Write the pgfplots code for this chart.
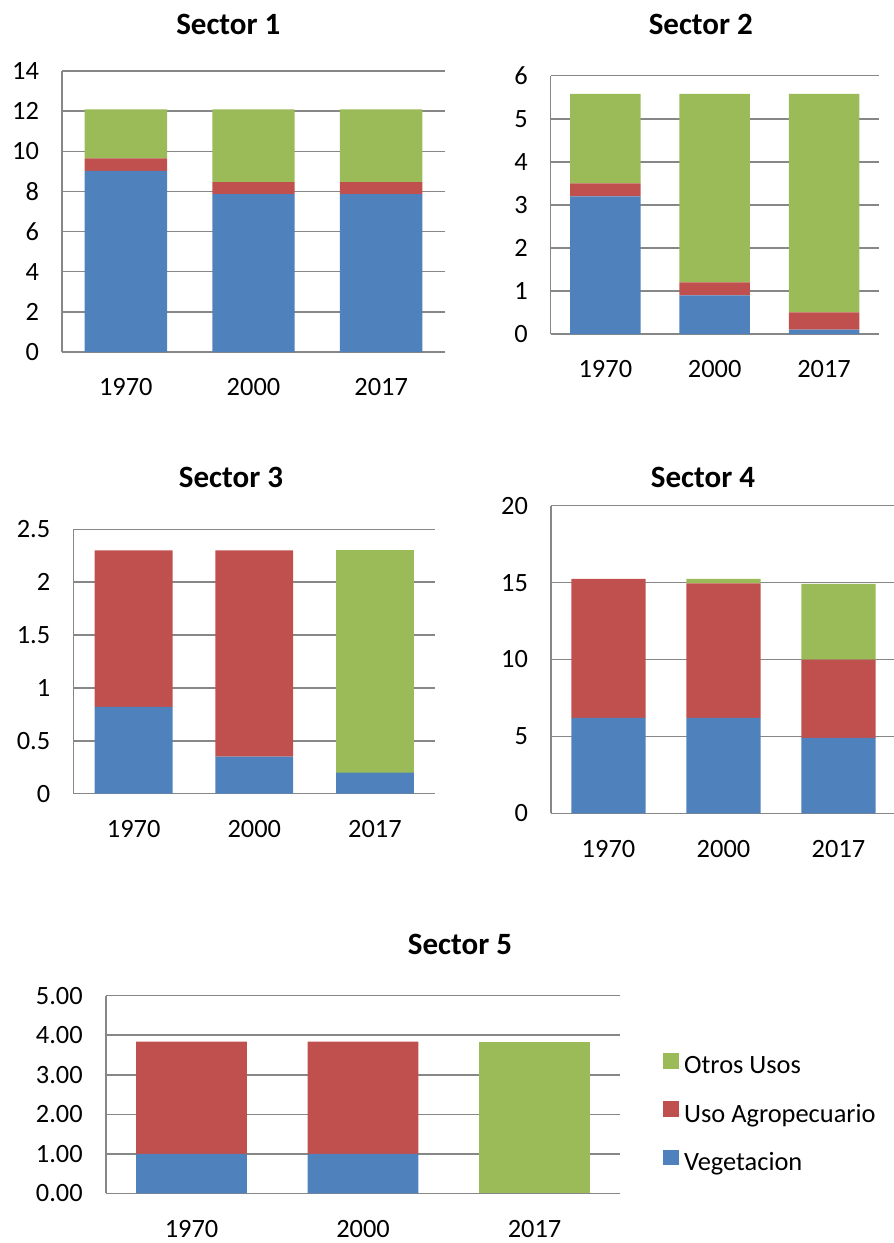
\documentclass[border=0pt]{standalone}
\usepackage{fontspec}
\setmainfont{Carlito}
\usepackage{pgfplots}
\pgfplotsset{compat=1.18}
\definecolor{cveg}{HTML}{4F81BD}
\definecolor{cagr}{HTML}{C0504D}
\definecolor{coth}{HTML}{9BBB59}
\definecolor{axgray}{HTML}{878787}
\pgfplotsset{
  sec/.style={
    scale only axis, anchor=south west,
    ybar stacked, bar width=0.645,
    xmin=-0.5, xmax=2.5, ymin=0,
    xtick={0,1,2}, xticklabels={1970,2000,2017},
    axis x line*=bottom, axis y line*=left,
    ymajorgrids, grid style={draw=axgray, line width=0.75pt},
    axis line style={draw=axgray, line width=0.75pt, -},
    major tick length=0pt,
    tick label style={font=\fontsize{13.2}{15}\selectfont, text=black},
    yticklabel style={xshift=-8pt},
    xticklabel style={yshift=-9.75pt},
    /pgf/number format/assume math mode=true,
    legend image code/.code={\fill[##1] (0pt,-1.2pt) rectangle (7.8pt,6.6pt); \path (0pt,0pt) -- (9pt,0pt);},
  },
  sveg/.style={fill=cveg, draw=none},
  sagr/.style={fill=cagr, draw=none},
  soth/.style={fill=coth, draw=none},
}
\begin{document}
\begin{tikzpicture}
\useasboundingbox (0,0) rectangle (447pt,-621.5pt);
\tikzset{ttl/.style={anchor=base, font=\fontsize{15.5}{18}\selectfont\bfseries}}
\node[ttl] at (114.15pt,-17.2pt) {Sector 1};
\node[ttl] at (350.4pt,-17.2pt) {Sector 2};
\node[ttl] at (115.5pt,-243.7pt) {Sector 3};
\node[ttl] at (351.5pt,-243.7pt) {Sector 4};
\node[ttl] at (230pt,-477.2pt) {Sector 5};

% Sector 1
\begin{axis}[sec, at={(31pt,-176pt)}, width=191.5pt, height=140.5pt, ymax=14, ytick distance=2]
\addplot[sveg] coordinates {(0,9.03) (1,7.86) (2,7.86)};
\addplot[sagr] coordinates {(0,0.62) (1,0.61) (2,0.61)};
\addplot[soth] coordinates {(0,2.44) (1,3.62) (2,3.62)};
\end{axis}

% Sector 2
\begin{axis}[sec, at={(275.35pt,-167pt)}, width=164pt, height=129.15pt, ymax=6, ytick distance=1]
\addplot[sveg] coordinates {(0,3.2) (1,0.9) (2,0.1)};
\addplot[sagr] coordinates {(0,0.3) (1,0.3) (2,0.4)};
\addplot[soth] coordinates {(0,2.08) (1,4.38) (2,5.08)};
\end{axis}

% Sector 3
\begin{axis}[sec, at={(36.65pt,-396.85pt)}, width=181pt, height=132.2pt, ymax=2.5, ytick distance=0.5]
\addplot[sveg] coordinates {(0,0.82) (1,0.35) (2,0.2)};
\addplot[sagr] coordinates {(0,1.48) (1,1.95) (2,0)};
\addplot[soth] coordinates {(0,0) (1,0) (2,2.1)};
\end{axis}

% Sector 4
\begin{axis}[sec, at={(275.5pt,-406.65pt)}, width=172.5pt, height=153.8pt, ymax=20, ytick distance=5]
\addplot[sveg] coordinates {(0,6.2) (1,6.2) (2,4.9)};
\addplot[sagr] coordinates {(0,9.05) (1,8.75) (2,5.1)};
\addplot[soth] coordinates {(0,0) (1,0.3) (2,4.92)};
\end{axis}

% Sector 5
\begin{axis}[sec, at={(52.9pt,-596.65pt)}, width=257.25pt, height=98.8pt, ymax=5, ytick distance=1,
  yticklabel style={/pgf/number format/.cd, fixed, fixed zerofill, precision=2},
  reverse legend,
  legend style={at={(1.0825,0.397)}, anchor=west, draw=none, fill=none, inner sep=0pt,
    font=\fontsize{13.2}{15}\selectfont, row sep=10.75pt,
    nodes={inner sep=1.5pt}},
  legend cell align=left]
\addplot[sveg] coordinates {(0,1) (1,1) (2,0)};
\addlegendentry{Vegetacion}
\addplot[sagr] coordinates {(0,2.84) (1,2.84) (2,0)};
\addlegendentry{Uso Agropecuario}
\addplot[soth] coordinates {(0,0) (1,0) (2,3.84)};
\addlegendentry{Otros Usos}
\end{axis}
\end{tikzpicture}
\end{document}
